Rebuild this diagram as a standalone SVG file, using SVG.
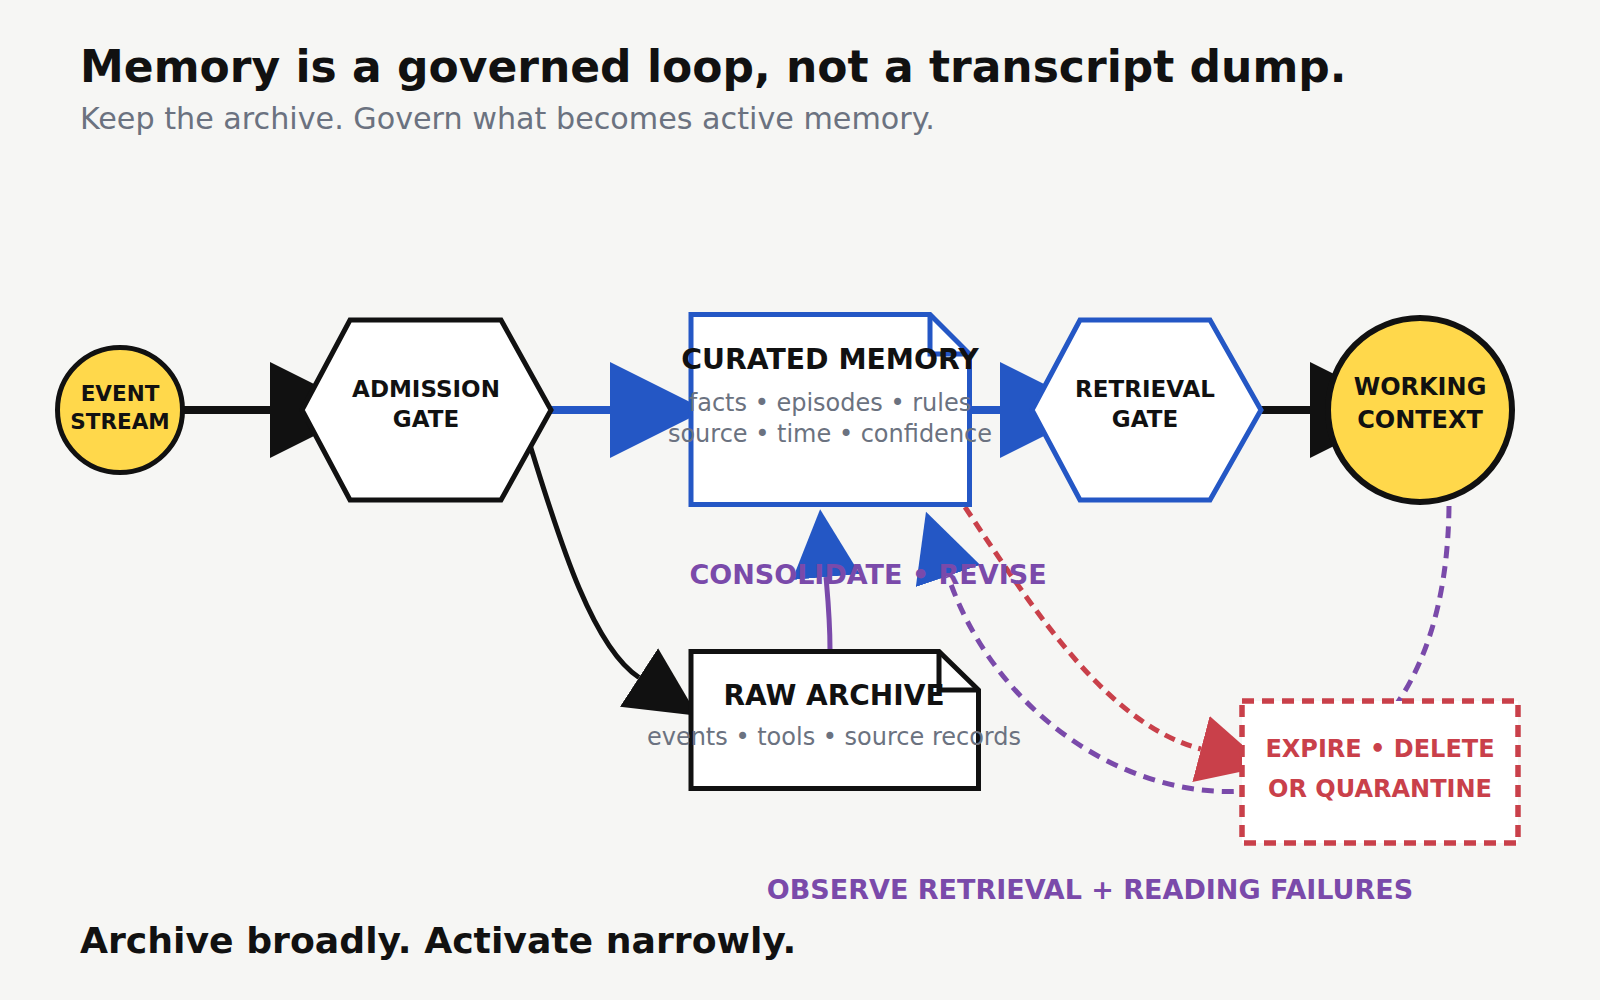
<svg xmlns="http://www.w3.org/2000/svg" width="1600" height="1000" viewBox="0 0 1600 1000">
<style>
text{font-family:"DejaVu Sans",Verdana,sans-serif}
.b{font-weight:bold;fill:#111}
.sub{fill:#6B7280}
.lbl{font-weight:bold;fill:#7A4AAA;font-size:27px;text-anchor:middle}
.c{text-anchor:middle}
.k{stroke:#111;stroke-width:5;fill:#fff}
.bl{stroke:#2457C5;stroke-width:5;fill:#fff}
</style>
<defs>
<marker id="ak" viewBox="0 0 10 10" refX="0" refY="5" markerUnits="userSpaceOnUse" markerWidth="96" markerHeight="96" orient="auto"><path d="M0,0 L10,5 L0,10 z" fill="#111"/></marker>
<marker id="ab" viewBox="0 0 10 10" refX="0" refY="5" markerUnits="userSpaceOnUse" markerWidth="96" markerHeight="96" orient="auto"><path d="M0,0 L10,5 L0,10 z" fill="#2457C5"/></marker>
<marker id="aks" viewBox="0 0 10 10" refX="0" refY="5" markerUnits="userSpaceOnUse" markerWidth="70" markerHeight="70" orient="auto"><path d="M0,0 L10,5 L0,10 z" fill="#111"/></marker>
<marker id="abs" viewBox="0 0 10 10" refX="0" refY="5" markerUnits="userSpaceOnUse" markerWidth="68" markerHeight="68" orient="auto"><path d="M0,0 L10,5 L0,10 z" fill="#2457C5"/></marker>
<marker id="ars" viewBox="0 0 10 10" refX="0" refY="5" markerUnits="userSpaceOnUse" markerWidth="68" markerHeight="68" orient="auto"><path d="M0,0 L10,5 L0,10 z" fill="#C9404A"/></marker>
</defs>
<rect width="1600" height="1000" fill="#F6F6F4"/>
<text class="b" x="80" y="82" font-size="44">Memory is a governed loop, not a transcript dump.</text>
<text class="sub" x="80" y="129" font-size="30.2">Keep the archive. Govern what becomes active memory.</text>
<text class="b" x="80" y="953" font-size="36.2">Archive broadly. Activate narrowly.</text>
<g id="connectors" fill="none">
<path d="M182,410 H270" stroke="#111" stroke-width="8" marker-end="url(#ak)"/>
<path d="M551,410 H610" stroke="#2457C5" stroke-width="8" marker-end="url(#ab)"/>
<path d="M970,410 H1000" stroke="#2457C5" stroke-width="8" marker-end="url(#ab)"/>
<path d="M1261,410 H1310" stroke="#111" stroke-width="8" marker-end="url(#ak)"/>
<path d="M530,445 C554,521 589,645 639,677.5" stroke="#111" stroke-width="5" marker-end="url(#aks)"/>
<path d="M830,650 C830,620 828,600 826,577" stroke="#7A4AAA" stroke-width="5" marker-end="url(#abs)"/>
<path d="M1449,506 C1445,905 1040,845 948,576" stroke="#7A4AAA" stroke-width="5" stroke-dasharray="12 8" marker-end="url(#abs)"/>
<path d="M965,507 C1040,620 1110,725 1201,749" stroke="#C9404A" stroke-width="5" stroke-dasharray="11 7" marker-end="url(#ars)"/>
</g>
<g id="event-stream">
<circle cx="120" cy="410" r="62.5" fill="#FFD84B" stroke="#111" stroke-width="5"/>
<text class="b c" x="120" y="401" font-size="21.5">EVENT</text>
<text class="b c" x="120" y="429" font-size="21.5">STREAM</text>
</g>
<g id="admission-gate">
<polygon class="k" points="302,410 350,320 501,320 551,410 501,500 350,500"/>
<text class="b c" x="426" y="397" font-size="23">ADMISSION</text>
<text class="b c" x="426" y="427" font-size="23">GATE</text>
</g>
<g id="curated-memory">
<path class="bl" d="M691,314.5 H930 L969.5,354 V504.5 H691 Z"/>
<path d="M930,314.5 V354 H969.5" fill="none" stroke="#2457C5" stroke-width="5"/>
<text class="b c" x="830" y="369" font-size="28.3">CURATED MEMORY</text>
<text class="sub c" x="830" y="411" font-size="24">facts • episodes • rules</text>
<text class="sub c" x="830" y="442" font-size="24">source • time • confidence</text>
</g>
<g id="retrieval-gate">
<polygon class="bl" points="1032,410 1080,320 1210,320 1261,410 1210,500 1080,500"/>
<text class="b c" x="1145" y="397" font-size="23">RETRIEVAL</text>
<text class="b c" x="1145" y="427" font-size="23">GATE</text>
</g>
<g id="working-context">
<circle cx="1420" cy="410" r="92" fill="#FFD84B" stroke="#111" stroke-width="6"/>
<text class="b c" x="1420" y="395" font-size="24">WORKING</text>
<text class="b c" x="1420" y="428" font-size="24">CONTEXT</text>
</g>
<g id="raw-archive">
<path class="k" d="M691,651.5 H939 L978.5,690 V788.5 H691 Z"/>
<path d="M939,651.5 V690 H978.5" fill="none" stroke="#111" stroke-width="5"/>
<text class="b c" x="834" y="705" font-size="28">RAW ARCHIVE</text>
<text class="sub c" x="834" y="745" font-size="24">events • tools • source records</text>
</g>
<g id="expire">
<rect x="1242" y="701" width="276" height="142" fill="#fff" stroke="#C9404A" stroke-width="5.5" stroke-dasharray="12 8"/>
<text class="c" x="1380" y="757" font-size="24" font-weight="bold" fill="#C9404A">EXPIRE • DELETE</text>
<text class="c" x="1380" y="797" font-size="24" font-weight="bold" fill="#C9404A">OR QUARANTINE</text>
</g>
<g id="labels">
<text class="lbl" x="868" y="584">CONSOLIDATE • REVISE</text>
<text class="lbl" x="1090" y="899">OBSERVE RETRIEVAL + READING FAILURES</text>
</g>
</svg>
